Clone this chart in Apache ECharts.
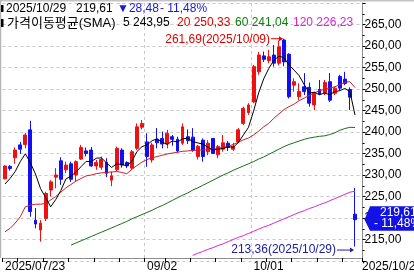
<!DOCTYPE html>
<html><head><meta charset="utf-8">
<script src="https://cdn.jsdelivr.net/npm/echarts@6/dist/echarts.min.js"></script>
<style>html,body{margin:0;padding:0;background:#fff;}#c{width:414px;height:275px;}</style>
</head><body><div id="c"></div>
<script>
const dates = ['2025/07/23','2025/07/24','2025/07/25','2025/07/28','2025/07/29','2025/07/30','2025/07/31',
'2025/08/01','2025/08/04','2025/08/05','2025/08/06','2025/08/07','2025/08/08','2025/08/11','2025/08/12','2025/08/13','2025/08/14','2025/08/15',
'2025/08/18','2025/08/19','2025/08/20','2025/08/21','2025/08/22','2025/08/25','2025/08/26','2025/08/27','2025/08/28','2025/08/29',
'2025/09/02','2025/09/03','2025/09/04','2025/09/05','2025/09/08','2025/09/09','2025/09/10','2025/09/11','2025/09/12',
'2025/09/15','2025/09/16','2025/09/17','2025/09/18','2025/09/19','2025/09/22','2025/09/23','2025/09/24','2025/09/25','2025/09/26',
'2025/09/29','2025/09/30','2025/10/01','2025/10/02','2025/10/03','2025/10/06','2025/10/07','2025/10/08','2025/10/09','2025/10/10',
'2025/10/13','2025/10/14','2025/10/15','2025/10/16','2025/10/17','2025/10/20','2025/10/21','2025/10/22','2025/10/23','2025/10/24',
'2025/10/27','2025/10/28','2025/10/29'];
const open  = [229.1,232.0,234.0,237.0,237.1,240.5,219.5,217.2,219.9,226.5,229.5,233.3,231.2,232.6,230.0,233.7,235.6,235.8,232.1,231.8,
232.9,228.8,231.2,235.8,232.9,231.6,236.2,241.1,237.7,233.5,238.3,238.5,237.2,238.9,238.3,237.4,238.9,238.8,234.3,238.1,
235.4,238.5,234.7,236.0,237.4,236.0,237.7,242.0,244.5,247.0,254.0,257.7,256.6,257.9,256.0,261.4,258.1,250.9,248.2,250.5,
250.4,246.3,249.9,249.0,251.7,249.0,252.9,252.3,249.9,220.9];
const close = [232.1,231.5,235.8,236.0,239.3,221.5,218.6,218.8,225.7,228.4,230.0,229.0,232.3,229.0,233.1,236.4,235.0,232.1,232.9,233.6,
230.4,229.8,236.2,232.3,232.1,235.4,241.2,242.0,234.3,237.0,237.5,237.2,239.7,238.3,235.6,241.2,238.0,235.8,236.7,234.3,
237.4,235.0,236.6,237.5,236.4,236.7,240.5,245.5,246.3,255.2,257.9,256.9,257.5,256.0,259.8,256.3,248.2,251.7,249.4,249.4,
246.7,249.0,248.8,251.5,247.4,250.2,250.2,251.3,248.09,219.61];
const low   = [229.0,231.0,232.6,234.9,236.2,220.3,217.6,214.5,219.3,225.0,226.9,227.7,230.4,228.4,228.4,233.5,234.3,231.9,231.2,231.2,
229.5,227.4,230.8,231.7,231.6,231.2,235.8,240.6,231.9,232.9,236.2,236.2,236.2,236.8,235.2,237.0,237.2,235.4,233.6,233.1,
234.6,234.9,233.9,235.4,235.6,235.6,237.4,241.6,244.0,246.7,253.3,256.3,256.0,255.2,255.5,255.3,247.8,249.4,247.4,248.6,
245.9,245.1,248.6,248.6,247.0,248.6,249.6,250.9,245.1,213.36];
const high  = [232.3,232.3,236.4,237.7,239.8,242.6,222.3,219.5,226.1,228.8,231.6,234.1,233.1,233.1,233.4,237.0,236.4,236.5,233.5,234.3,
233.9,230.8,236.6,236.2,233.2,235.8,242.0,242.8,239.7,237.5,240.9,240.1,240.5,239.3,238.9,242.0,240.6,240.9,237.0,238.5,
238.1,238.6,237.0,239.3,237.9,237.5,240.9,245.9,246.7,255.6,258.6,258.7,259.1,260.2,261.3,261.69,258.3,252.5,251.3,253.7,
251.5,249.4,252.1,252.1,253.7,250.6,253.3,254.0,250.4,227.0];
const ma5   = [227.9,229.2,230.8,233.1,234.94,232.82,230.24,226.84,224.78,222.60,224.30,226.38,229.08,229.74,230.68,231.96,233.16,233.12,233.90,234.00,
232.80,231.76,232.58,232.46,232.16,233.16,235.44,236.60,237.00,237.98,238.40,237.60,237.14,237.94,237.66,238.40,238.56,237.78,237.46,237.20,
236.44,235.84,236.00,236.16,236.58,236.44,237.54,239.32,241.08,244.84,249.08,252.36,254.76,256.70,257.62,257.30,255.56,254.40,253.08,251.00,
249.08,249.24,248.66,249.08,248.68,249.38,249.62,250.12,249.44,243.95];
const ma20  = [216.8,217.6,218.8,220.3,222.6,223.0,223.2,223.2,223.4,224.2,225.0,226.0,227.0,227.8,228.6,229.2,229.8,230.0,230.3,230.5,
230.6,230.7,230.8,230.6,230.3,231.3,232.2,233.0,233.6,234.0,234.3,234.6,234.9,235.1,235.3,235.5,235.6,235.7,235.8,235.8,
235.9,236.0,236.2,236.4,236.7,237.1,237.6,238.2,238.6,239.3,240.2,241.2,242.0,243.2,244.2,245.2,245.9,246.5,247.3,247.9,
248.5,249.1,249.6,249.9,250.2,250.5,251.0,251.6,251.7,250.33];
const ma60  = [null,null,null,null,null,null,null,null,null,null,null,null,null,213.7,214.2,214.7,215.2,215.7,216.2,216.7,
217.2,217.7,218.2,218.7,219.2,219.8,220.3,220.8,221.3,221.8,222.4,222.9,223.5,224.1,224.7,225.3,225.8,226.5,227.0,227.6,
228.2,228.8,229.4,230.0,230.5,231.1,231.6,232.1,232.6,233.1,233.7,234.2,234.8,235.4,236.0,236.6,237.1,237.5,237.9,238.3,
238.6,238.8,239.0,239.1,239.4,239.8,240.4,240.8,241.1,241.04];
const ma120 = [null,null,null,null,null,null,null,null,null,null,null,null,null,null,null,null,null,null,null,null,
null,null,null,null,null,null,null,null,null,null,null,null,null,null,null,null,null,211.3,211.8,212.2,
212.7,213.1,213.6,214.0,214.5,215.0,215.5,215.9,216.4,216.9,217.4,217.9,218.3,218.8,219.3,219.8,220.3,220.8,221.3,221.7,
222.2,222.6,223.1,223.5,224.0,224.5,225.0,225.5,226.0,226.23];
const labelIdx = [0, 28, 49, 69];
const splitIdx = [28, 49];
const lastChange = -28.48, lastPct = -11.48;
const maNames = ['5','20','60','120'];

const FONT = '"Liberation Sans", Arial, "Noto Sans CJK KR", sans-serif';
const fmt = v => Number(v).toFixed(2).replace('.', ',');
const cats = dates.concat(['']);
const ohlc = dates.map((d, i) => [open[i], close[i], low[i], high[i]]);
const dow = i => new Date(dates[i].replace(/\//g, '-') + 'T12:00:00').getDay();
const tickSet = new Set();
for (let i = 0; i < dates.length; i++) { if (i === 0 || dow(i) < dow(i - 1)) tickSet.add(i); }
const labelSet = new Set(labelIdx), splitSet = new Set(splitIdx);
const UP = '#f01010', DOWN = '#1010f0';
const C5 = '#000000', C20 = '#c8202a', C60 = '#157015', C120 = '#d828d8';

const chart = echarts.init(document.getElementById('c'), null, {renderer: 'canvas'});
const option = {
  animation: false,
  backgroundColor: '#fff',
  grid: {left: 2.5, right: 51.4, top: 3, height: 258, outerBoundsMode: 'none', containLabel: false},
  xAxis: {
    type: 'category', data: cats, boundaryGap: true, offset: -3,
    axisLine: {show: true, lineStyle: {color: '#8c8c8c', width: 1}},
    axisTick: {show: true, length: 4, interval: i => tickSet.has(i), lineStyle: {color: '#000'}},
    axisLabel: {
      show: true, interval: i => labelSet.has(i), align: 'left', margin: 3,
      fontSize: 12, fontFamily: FONT, color: '#000',
      formatter: (v, i) => {
        if (i === 0) return v;
        if (i === dates.length - 1) return '{e|' + v + '}';
        return v.slice(5);
      },
      rich: {e: {padding: [0, 0, 0, 7], fontSize: 12, fontFamily: FONT, color: '#000'}}
    },
    splitLine: {show: true, interval: i => splitSet.has(i), lineStyle: {color: '#c8c8c8', type: [3, 3], width: 1}}
  },
  yAxis: {
    type: 'value', position: 'right', min: 210, max: 270, interval: 5,
    axisLine: {show: true, lineStyle: {color: '#8c8c8c', width: 1}},
    axisTick: {show: true, length: 3, lineStyle: {color: '#000'}},
    minorTick: {show: true, splitNumber: 2, length: 2, lineStyle: {color: '#000'}},
    axisLabel: {show: true, margin: 2, fontSize: 12, fontFamily: FONT, color: '#000', formatter: fmt, showMinLabel: false, showMaxLabel: false},
    splitLine: {show: true, lineStyle: {color: '#c8c8c8', type: [3, 3], width: 1}}
  },
  series: [
    {type: 'candlestick', data: ohlc, barWidth: 3.4, silent: true,
     itemStyle: {color: UP, color0: DOWN, borderColor: UP, borderColor0: DOWN, borderWidth: 1}},
    {type: 'line', data: ma120, showSymbol: false, silent: true, lineStyle: {color: C120, width: 1}},
    {type: 'line', data: ma60, showSymbol: false, silent: true, lineStyle: {color: C60, width: 1}},
    {type: 'line', data: ma20, showSymbol: false, silent: true, lineStyle: {color: C20, width: 1}},
    {type: 'line', data: ma5, showSymbol: false, silent: true, lineStyle: {color: C5, width: 1}}
  ]
};
chart.setOption(option);

// annotations positioned through the chart's own scales
let iMax = 0, iMin = 0;
for (let i = 0; i < high.length; i++) { if (high[i] > high[iMax]) iMax = i; if (low[i] < low[iMin]) iMin = i; }
const last = dates.length - 1;
const hp = chart.convertToPixel({gridIndex: 0}, [iMax, high[iMax]]);
const lp = chart.convertToPixel({gridIndex: 0}, [iMin, low[iMin]]);
const cp = chart.convertToPixel({gridIndex: 0}, [last, close[last]]);
const tf = (s, c) => ({fontSize: s, fontFamily: FONT, fill: c});
const T = (x, y, text, size, color, extra) => ({type: 'text', x: x, y: y, z: 60,
  style: Object.assign({text: text, verticalAlign: 'middle'}, tf(size, color), extra || {})});
const ly = lp[1] + 3.5;
const BLUE = '#1818d8';
const g = [
  {type: 'rect', shape: {x: 0, y: 0, width: 414, height: 1.5}, style: {fill: '#c4c4c4'}, z: 50},
  {type: 'rect', shape: {x: 0, y: 0, width: 1.2, height: 258}, style: {fill: '#b4b4b4'}, z: 50},
  // legend row 1
  {type: 'rect', shape: {x: 1, y: 5, width: 2.5, height: 7}, style: {fill: '#000'}, z: 60},
  T(6, 9, dates[last], 12, '#000'),
  T(76, 9, fmt(close[last]), 12, '#000'),
  T(117, 9, '▼' + fmt(Math.abs(lastChange)), 12, BLUE),
  T(160, 9, '- ' + fmt(Math.abs(lastPct)) + '%', 12, BLUE),
  // legend row 2
  {type: 'rect', shape: {x: 1, y: 19, width: 2.5, height: 8}, style: {fill: '#000'}, z: 60},
  T(7, 23, '가격이동평균(SMA)', 13, '#000'),
  T(123, 23, maNames[0] + ' ' + fmt(ma5[last]), 12, '#000'),
  T(177, 23, maNames[1] + ' ' + fmt(ma20[last]), 12, '#e00000'),
  T(235, 23, maNames[2] + ' ' + fmt(ma60[last]), 12, '#108010'),
  T(293, 23, maNames[3] + ' ' + fmt(ma120[last]), 12, '#e020e0'),
  // high annotation
  T(hp[0] - 14, hp[1] + 0.5, fmt(high[iMax]) + '(' + dates[iMax] + ')', 12, '#e00000', {align: 'right'}),
  {type: 'line', shape: {x1: hp[0] - 13, y1: hp[1], x2: hp[0] - 2, y2: hp[1]}, style: {stroke: '#e00000', lineWidth: 1}, z: 60},
  {type: 'polygon', shape: {points: [[hp[0] - 1, hp[1]], [hp[0] - 5, hp[1] - 2.5], [hp[0] - 5, hp[1] + 2.5]]}, style: {fill: '#e00000'}, z: 60},
  // low annotation
  T(lp[0] - 19, ly, fmt(low[iMin]) + '(' + dates[iMin] + ')', 12, '#2020a0', {align: 'right'}),
  {type: 'line', shape: {x1: lp[0] - 18, y1: ly, x2: lp[0] - 2, y2: ly}, style: {stroke: '#2020a0', lineWidth: 1}, z: 60},
  {type: 'polygon', shape: {points: [[lp[0] - 1, ly], [lp[0] - 5, ly - 2.5], [lp[0] - 5, ly + 2.5]]}, style: {fill: '#2020a0'}, z: 60},
  // price tag
  {type: 'polygon', shape: {points: [[364.5, cp[1]], [370, cp[1] - 13.5], [414, cp[1] - 13.5], [414, cp[1] + 11], [370, cp[1] + 11]]}, style: {fill: '#1212e6'}, z: 70},
  {type: 'text', x: 380, y: cp[1] - 6.5, z: 71, style: Object.assign({text: fmt(close[last]), verticalAlign: 'middle'}, tf(12, '#fff'))},
  {type: 'text', x: 374, y: cp[1] + 4.5, z: 71, style: Object.assign({text: '- ' + fmt(Math.abs(lastPct)) + '%', verticalAlign: 'middle'}, tf(12, '#fff'))}
];
chart.setOption({graphic: g});
</script></body></html>
